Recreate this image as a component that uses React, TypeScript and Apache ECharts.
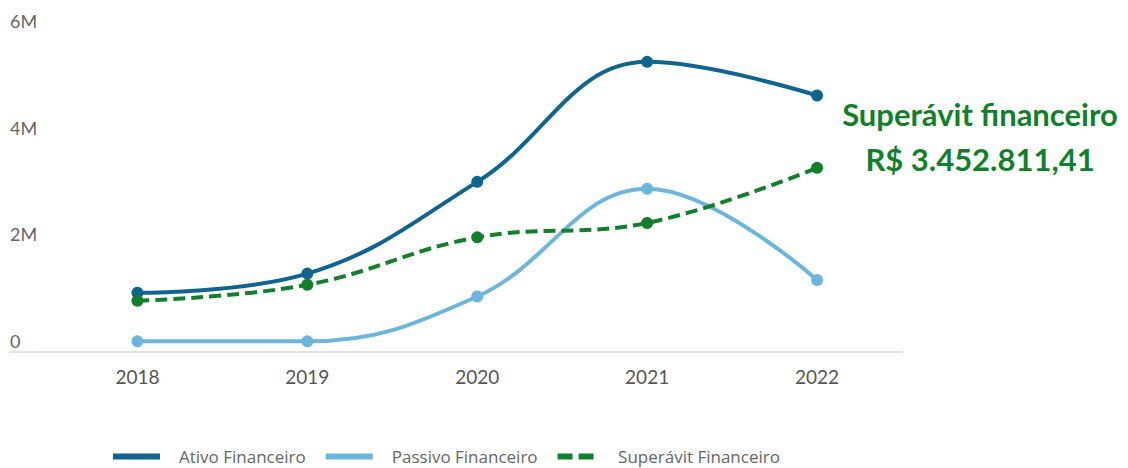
import React, { useEffect, useRef } from "react";
import * as echarts from "echarts";

const years = [2018, 2019, 2020, 2021, 2022];
const ativo = [1110000, 1470000, 3190000, 5440000, 4810000];
const passivo = [200000, 200000, 1040000, 3060000, 1350000];
const superavit = [960000, 1260000, 2150000, 2420000, 3452811.41];
const yTicks = [0, 2000000, 4000000, 6000000];
const legendNames = ["Ativo Financeiro", "Passivo Financeiro", "Superávit Financeiro"];
const annotationTitle = "Superávit financeiro";
const annotationValue = "R$ 3.452.811,41";

const C_ATIVO = "#0f6590";
const C_PASSIVO = "#6cb6de";
const C_SUP = "#12802b";

const pairs = (vals: number[]) => years.map((y, i) => [y, vals[i]]);

export default function App() {
  const ref = useRef<HTMLDivElement>(null);
  useEffect(() => {
    if (!ref.current) return;
    const chart = echarts.init(ref.current, undefined, { renderer: "svg" });
    const fmtY = (v: number) => (v === 0 ? "0" : v / 1000000 + "M");
    chart.setOption({
      animation: false,
      textStyle: { fontFamily: "Lato" },
      grid: { left: 10, right: 226, top: 32, bottom: 116, containLabel: false },
      xAxis: {
        type: "value",
        min: 2017.25,
        max: 2022.5,
        splitLine: { show: false },
        axisLine: { show: true, lineStyle: { color: "#e2e2e2", width: 2 } },
        axisTick: { show: false },
        axisLabel: {
          customValues: years,
          formatter: (v: number) => String(v),
          color: "#555",
          fontSize: 19,
          margin: 15,
          fontFamily: "Lato",
        },
      },
      yAxis: {
        type: "value",
        min: 0,
        max: 6000000,
        interval: 2000000,
        splitLine: { show: false },
        axisLine: { show: false },
        axisTick: { show: false },
        axisLabel: {
          inside: true,
          margin: 0,
          align: "left",
          verticalAlign: "bottom",
          padding: [0, 0, 2, 0],
          color: "#666",
          fontSize: 18,
          fontFamily: "Lato",
          customValues: yTicks,
          formatter: fmtY,
        },
      },
      legend: {
        left: 113,
        top: 448,
        padding: 0,
        itemWidth: 47,
        itemHeight: 6,
        itemGap: 20,
        textStyle: { color: "#666", fontSize: 17, fontFamily: "Open Sans", padding: [0, 0, 0, 14] },
        data: [
          { name: legendNames[0], icon: "rect", itemStyle: { color: C_ATIVO } },
          { name: legendNames[1], icon: "rect", itemStyle: { color: C_PASSIVO } },
          {
            name: legendNames[2],
            icon: "path://M0,0H10V4H0Z M14,0H24V4H14Z",
            itemStyle: { color: C_SUP },
          },
        ],
      },
      series: [
        {
          name: legendNames[0],
          type: "line",
          data: pairs(ativo),
          smooth: 0.4,
          symbol: "circle",
          symbolSize: 12,
          itemStyle: { color: C_ATIVO },
          lineStyle: { color: C_ATIVO, width: 4 },
          z: 3,
        },
        {
          name: legendNames[1],
          type: "line",
          data: pairs(passivo),
          smooth: 0.4,
          symbol: "circle",
          symbolSize: 12,
          itemStyle: { color: C_PASSIVO },
          lineStyle: { color: C_PASSIVO, width: 4 },
          z: 2,
        },
        {
          name: legendNames[2],
          type: "line",
          data: pairs(superavit),
          smooth: 0.4,
          symbol: "circle",
          symbolSize: 12,
          itemStyle: { color: C_SUP },
          lineStyle: { color: C_SUP, width: 4, type: [12, 6] },
          z: 4,
        },
      ],
      graphic: [
        {
          type: "text",
          x: 980,
          y: 91,
          style: {
            text: annotationTitle + "\n" + annotationValue,
            fill: C_SUP,
            font: "bold 31px Lato",
            align: "center",
            textAlign: "center",
            lineHeight: 45,
          },
        },
      ],
    });
    return () => chart.dispose();
  }, []);
  return <div ref={ref} style={{ width: 1128, height: 468, position: "absolute", left: 0, top: 0 }} />;
}
